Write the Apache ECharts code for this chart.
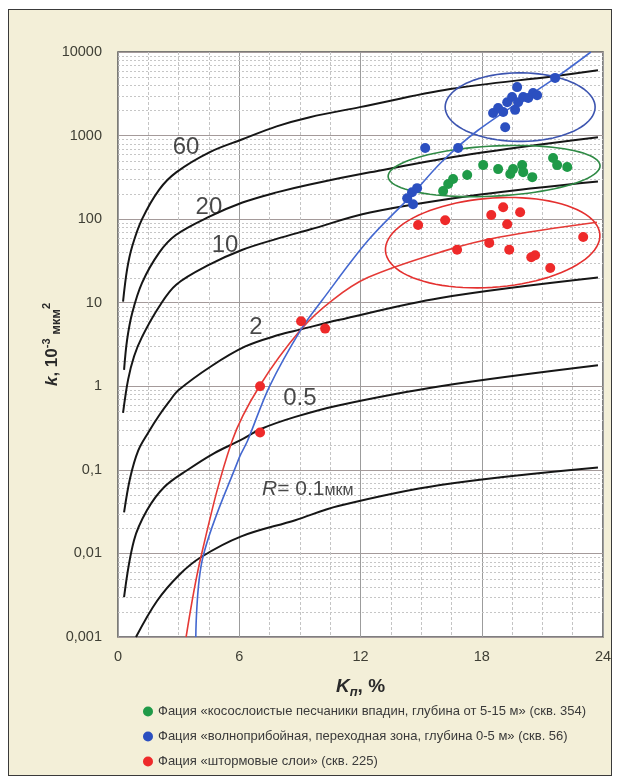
<!DOCTYPE html>
<html>
<head>
<meta charset="utf-8">
<script src="https://cdn.jsdelivr.net/npm/echarts@6/dist/echarts.min.js"></script>
<style>
  html, body { margin: 0; padding: 0; background: #ffffff; }
  #frame {
    position: absolute; left: 8px; top: 9px; width: 604px; height: 767px;
    background: #f3efd8; border: 1.5px solid #3a3a3a; box-sizing: border-box;
  }
  #chart { position: absolute; left: 0; top: 0; width: 618px; height: 783px; }
</style>
</head>
<body>
<div id="frame"></div>
<div id="chart"></div>
<script>
// Porosity Kп (%) vs permeability k (10^-3 мкм²), log scale.

// Isolines of pore-throat radius R (мкм): [Kп, k]
const isoR60 = [[0.25, 10.3], [0.45, 25], [0.7, 47], [1.19, 100], [2.04, 226], [2.88, 363], [4.52, 630],
  [6.16, 903], [7.85, 1290], [9.49, 1660], [11.97, 2190], [16.44, 3600], [21.56, 5130], [23.75, 6030]];
const isoR20 = [[0.3, 1.57], [0.45, 3.6], [0.7, 7.5], [1.19, 17.3], [2.04, 39.8], [2.88, 65], [4.52, 107],
  [6.16, 158], [7.85, 209], [9.49, 260], [12.47, 363], [17.44, 597], [23.75, 955]];
const isoR10 = [[0.25, 0.48], [0.5, 1.2], [0.8, 2.3], [1.19, 3.9], [2.04, 9], [2.88, 16.4], [4.52, 28.5],
  [6.16, 43], [7.85, 58], [9.49, 75], [12.47, 120], [17.93, 197], [23.75, 283]];
const isoR2 = [[0.3, 0.031], [0.6, 0.08], [1.0, 0.17], [1.5, 0.28], [2.04, 0.45], [2.52, 0.65], [3.0, 0.9],
  [4.63, 1.75], [6.3, 3.0], [7.93, 4.1], [9.06, 4.8], [10.9, 6.2], [15.95, 11.4], [23.75, 20]];
const isoR05 = [[0.3, 0.003], [0.79, 0.0143], [1.44, 0.033], [2.28, 0.062], [3.42, 0.099], [4.75, 0.158],
  [6.04, 0.225], [7.1, 0.31], [8.77, 0.43], [10.9, 0.59], [15.95, 1.0], [23.75, 1.78]];
const isoR01 = [[0.89, 0.001], [1.93, 0.0027], [3.05, 0.0056], [4.1, 0.009], [6.1, 0.016], [8.77, 0.025],
  [10.9, 0.037], [15.95, 0.066], [23.75, 0.107]];

// Trend lines of the facies
const trendStorm = [[3.37, 0.001], [4.1, 0.009], [5.64, 0.22], [7.0, 1.0], [9.06, 4.8], [10.6, 10.7],
  [12.36, 20], [16.2, 42], [18.9, 61], [23.7, 92]];
const trendSurf = [[3.85, 0.001], [4.2, 0.009], [6.0, 0.14], [6.4, 0.22], [7.5, 1.0], [9.06, 4.8],
  [10.1, 10.7], [12.36, 55], [14.5, 190], [16.0, 480], [17.8, 1150], [21.7, 5000], [23.4, 10000]];

// Measured samples
const faciesCrossbedded = [[16.09, 217], [16.34, 263], [16.58, 302], [17.28, 337], [18.07, 443], [18.81, 397],
  [19.41, 347], [19.55, 397], [20.0, 443], [20.05, 365], [20.5, 318], [21.53, 540], [21.73, 443], [22.23, 420]];
const faciesSurf = [[14.31, 178], [14.55, 210], [14.8, 235], [14.6, 151], [15.2, 710], [16.83, 710],
  [18.56, 1860], [18.81, 2140], [19.06, 1910], [19.16, 1260], [19.26, 2510], [19.5, 2890], [19.65, 2030],
  [19.75, 3800], [19.8, 2510], [20.05, 2890], [20.3, 2820], [20.54, 3230], [20.74, 3030], [21.63, 4900]];
const faciesStorm = [[7.03, 1.0], [7.03, 0.28], [9.06, 6.0], [10.25, 4.9], [14.85, 85], [16.19, 97],
  [18.47, 112], [19.06, 139], [19.9, 121], [19.26, 87], [23.02, 61], [16.78, 43], [18.37, 52], [19.36, 43],
  [20.45, 35], [20.64, 37], [21.39, 26]];

const yTickLabels = ['0,001', '0,01', '0,1', '1', '10', '100', '1000', '10000'];
const faciesNames = [
  'Фация «косослоистые песчаники впадин, глубина от 5-15 м» (скв. 354)',
  'Фация «волноприбойная, переходная зона, глубина 0-5 м» (скв. 56)',
  'Фация «штормовые слои» (скв. 225)'
];

// Field outlines: [centre Kп, centre k, half-width in %, half-height in decades, tilt in degrees]
const fieldOutlines = [
  { value: [19.9, 2190, 3.71, 0.41, 0], color: '#3d55b0' },
  { value: [18.61, 376, 5.25, 0.3, 3], color: '#2f8a45' },
  { value: [18.54, 52.3, 5.32, 0.533, 4.5], color: '#e4302f' }
];

// Isoline captions, anchored in data units
const isoCaptions = [
  { text: '60', at: [3.37, 727] },
  { text: '20', at: [4.5, 139] },
  { text: '10', at: [5.3, 49] },
  { text: '2', at: [6.83, 5.1] },
  { text: '0.5', at: [9.0, 0.72] }
];
const radiusCaptionAt = [7.13, 0.059];

// Log minor grid: 2..9 within each decade
const minorGrid = [];
for (let e = -3; e < 4; e++) {
  for (let m = 2; m <= 9; m++) minorGrid.push([0, m * Math.pow(10, e)]);
}

const FONT = "'Liberation Sans', Arial, sans-serif";
const GREEN = '#1f9a48', BLUE = '#2b4fc0', RED = '#ee2a2a';

function isoline(data) {
  return {
    type: 'line', data: data, smooth: 0.35, showSymbol: false, silent: true,
    lineStyle: { color: '#161616', width: 2 }, z: 3, clip: true
  };
}

function facies(name, data, color) {
  return {
    name: name, type: 'scatter', data: data, symbol: 'circle', symbolSize: 10,
    itemStyle: { color: color, opacity: 1 }, z: 6
  };
}

const chart = echarts.init(document.getElementById('chart'), null, { renderer: 'canvas' });

const option = {
  animation: false,
  backgroundColor: 'transparent',
  grid: {
    left: 118, right: 15, top: 52, bottom: 146, show: true,
    backgroundColor: '#ffffff', borderColor: '#555555', borderWidth: 1.5
  },
  legend: {
    orient: 'vertical', left: 143, top: 705, padding: 0, itemGap: 12, itemWidth: 10, itemHeight: 10,
    icon: 'circle', data: faciesNames,
    textStyle: { fontFamily: FONT, fontSize: 13, lineHeight: 12, color: '#3a3a3a' }
  },
  xAxis: {
    type: 'value', min: 0, max: 24, interval: 6,
    axisLine: { show: false }, axisTick: { show: false },
    axisLabel: { fontFamily: FONT, fontSize: 14.5, color: '#3f3f35', margin: 12 },
    splitLine: { show: true, lineStyle: { color: '#9c9c9c', width: 1 } },
    minorTick: { show: false, splitNumber: 4 },
    minorSplitLine: { show: true, lineStyle: { color: '#c4c4c4', width: 1, type: [3, 2] } },
    name: '{k|K}{s|п}{t|, %}', nameLocation: 'middle', nameGap: 38,
    nameTextStyle: {
      rich: {
        k: { fontFamily: FONT, fontSize: 19, fontWeight: 'bold', fontStyle: 'italic', color: '#2a2a2a', lineHeight: 24 },
        s: { fontFamily: FONT, fontSize: 13, fontWeight: 'bold', fontStyle: 'italic', color: '#2a2a2a', lineHeight: 24, verticalAlign: 'bottom', padding: [8, 0, 0, 0] },
        t: { fontFamily: FONT, fontSize: 19, fontWeight: 'bold', color: '#2a2a2a', lineHeight: 24 }
      }
    }
  },
  yAxis: {
    type: 'log', logBase: 10, min: 0.001, max: 10000, splitNumber: 7,
    axisLine: { show: false }, axisTick: { show: false },
    axisLabel: {
      fontFamily: FONT, fontSize: 14.5, color: '#3f3f35', margin: 16,
      formatter: function (v) { return yTickLabels[Math.round(Math.log10(v)) + 3]; }
    },
    splitLine: { show: true, lineStyle: { color: '#a49a9a', width: 1 } },
    name: '{k|k}{b|, 10}{p|-3}{u| мкм}{p|2}', nameLocation: 'middle', nameRotate: 90,
    nameGap: 55, nameMoveOverlap: false,
    nameTextStyle: {
      rich: {
        k: { fontFamily: FONT, fontSize: 17, fontWeight: 'bold', fontStyle: 'italic', color: '#2a2a2a', lineHeight: 22 },
        b: { fontFamily: FONT, fontSize: 17, fontWeight: 'bold', color: '#2a2a2a', lineHeight: 22 },
        u: { fontFamily: FONT, fontSize: 13, fontWeight: 'bold', color: '#2a2a2a', lineHeight: 22, verticalAlign: 'bottom' },
        p: { fontFamily: FONT, fontSize: 11, fontWeight: 'bold', color: '#2a2a2a', lineHeight: 22, verticalAlign: 'top' }
      }
    }
  },
  series: [
    {
      type: 'custom', name: 'minorGrid', silent: true, z: 1, data: minorGrid,
      renderItem: function (params, api) {
        const v = api.value(1);
        const a = api.coord([0, v]);
        const b = api.coord([24, v]);
        const y = Math.round(a[1]) + 0.5;
        return {
          type: 'line', shape: { x1: a[0], y1: y, x2: b[0], y2: y },
          style: { stroke: '#c6c6c6', lineWidth: 1, lineDash: [2, 2] }
        };
      }
    },
    isoline(isoR60), isoline(isoR20), isoline(isoR10), isoline(isoR2), isoline(isoR05), isoline(isoR01),
    {
      type: 'line', data: trendStorm, smooth: 0.35, showSymbol: false, silent: true,
      lineStyle: { color: '#e53a36', width: 1.6 }, z: 4
    },
    {
      type: 'line', data: trendSurf, smooth: 0.35, showSymbol: false, silent: true,
      lineStyle: { color: '#4468d0', width: 1.6 }, z: 4
    },
    {
      type: 'custom', name: 'fields', silent: true, z: 4,
      data: fieldOutlines.map(function (f) { return { value: f.value, itemStyle: { color: f.color } }; }),
      renderItem: function (params, api) {
        const xc = api.value(0), kc = api.value(1), rx = api.value(2), ry = api.value(3);
        const ang = api.value(4) * Math.PI / 180;
        const c = api.coord([xc, kc]);
        const px = api.coord([xc + rx, kc])[0] - c[0];
        const py = c[1] - api.coord([xc, kc * Math.pow(10, ry)])[1];
        const pts = [];
        for (let i = 0; i <= 90; i++) {
          const t = i / 90 * 2 * Math.PI;
          const ex = px * Math.cos(t), ey = py * Math.sin(t);
          pts.push([c[0] + ex * Math.cos(ang) - ey * Math.sin(ang),
                    c[1] - (ex * Math.sin(ang) + ey * Math.cos(ang))]);
        }
        return {
          type: 'polygon', shape: { points: pts },
          style: { fill: 'none', stroke: api.visual('color'), lineWidth: 1.6 }
        };
      }
    },
    facies(faciesNames[0], faciesCrossbedded, GREEN),
    facies(faciesNames[1], faciesSurf, BLUE),
    facies(faciesNames[2], faciesStorm, RED),
    {
      type: 'scatter', silent: true, symbolSize: 0, z: 7,
      data: isoCaptions.map(function (c) {
        return { value: c.at, label: { formatter: c.text } };
      }).concat([{
        value: radiusCaptionAt,
        label: { formatter: '{r|R}{n|= 0.1}{u|мкм}', align: 'left' }
      }]),
      label: {
        show: true, position: 'inside', color: '#1a1a1a', fontFamily: FONT, fontSize: 24,
        rich: {
          r: { fontFamily: FONT, fontSize: 21, fontStyle: 'italic', color: '#1a1a1a' },
          n: { fontFamily: FONT, fontSize: 21, color: '#1a1a1a' },
          u: { fontFamily: FONT, fontSize: 16, color: '#1a1a1a', verticalAlign: 'bottom', padding: [0, 0, 1, 0] }
        }
      }
    }
  ]
};

chart.setOption(option);
</script>
</body>
</html>
